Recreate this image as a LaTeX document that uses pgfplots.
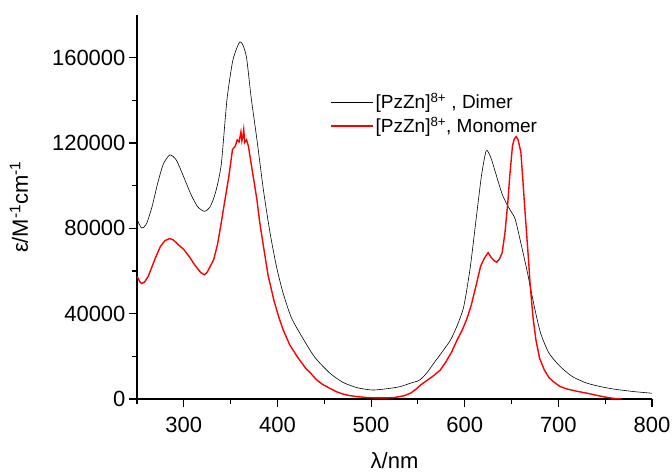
\documentclass[border=0pt]{standalone}
\usepackage{pgfplots}
\pgfplotsset{compat=1.18}
\usepackage{fontspec}
\setmainfont{Liberation Sans}
\begin{document}
\begin{tikzpicture}
\begin{axis}[
  scale only axis, width=515pt, height=384pt,
  xmin=250, xmax=800, ymin=0, ymax=180000,
  axis x line*=bottom, axis y line*=left,
  separate axis lines,
  x axis line style={line width=1.1pt},
  y axis line style={line width=1.1pt},
  xtick align=outside, ytick align=outside,
  xtick={300,400,500,600,700,800},
  minor xtick={250,350,450,550,650,750},
  ytick={0,40000,80000,120000,160000},
  minor ytick={20000,60000,100000,140000},
  tickwidth=8pt, subtickwidth=5pt,
  xtick style={black, line width=1.1pt},
  ytick style={black, line width=1.1pt},
  scaled y ticks=false,
  yticklabel style={/pgf/number format/fixed, /pgf/number format/1000 sep={}},
  xticklabel shift=7pt,
  /pgf/number format/assume math mode=true,
  tick label style={font=\fontsize{22}{24}\selectfont},
  xlabel={\fontsize{22}{24}\selectfont λ/nm},
  ylabel={\fontsize{22}{24}\selectfont ε/M\textsuperscript{-1}cm\textsuperscript{-1}},
  xlabel style={at={(axis description cs:0.5,0)}, anchor=north, yshift=-50pt},
  ylabel style={yshift=17pt},
  legend style={draw=none, fill=none, at={(0.369,0.807)}, anchor=north west,
    font=\fontsize{19}{21}\selectfont, row sep=3pt},
  legend cell align=left,
]
\addplot[black, line width=0.6pt, smooth, tension=0.4,
  legend image code/.code={\draw[black, line width=0.6pt] (0pt,0pt) -- (42pt,0pt);}] coordinates {
(250,84200) (255,80100) (260,82000) (266,90000) (272,101000) (278,110000) (285,114400)
(292,112000) (300,104000) (308,95500) (315,90000) (322,88000) (328,90000) (334,97000)
(340,110000) (346,140000) (352,158000) (357,165000) (360,167400) (363,166000) (367,160000)
(372,141000) (378,121900) (385,98000) (392,78100) (399,62000) (406,49700) (415,38000)
(428,27800) (440,19500) (456,12100) (470,7800) (485,5300) (502,4200) (520,5000)
(531,5800) (542,7400) (552,8900) (560,12500) (567,16800) (575,21500) (585,27800) (592,34500)
(599,43400) (606,62000) (613,87400) (618,105000) (623,116400) (628,113000) (635,103000)
(640,96000) (645,91300) (650,87500) (654,84200) (660,73000) (667,59200) (674,44000)
(681,30900) (690,21500) (702,15200) (715,10500) (730,7500) (745,5800) (760,4600)
(780,3500) (800,2700)
};
\addlegendentry{[PzZn]\textsuperscript{8+} , Dimer}
\addplot[color=red, line width=1.4pt,
  legend image code/.code={\draw[red, line width=1.4pt] (0pt,0pt) -- (42pt,0pt);}] coordinates {
(250,57500) (253,55000) (255,54100) (258,54800) (262,57500) (266,62000) (270,66500)
(275,71500) (280,74300) (285,75200) (289,74500) (293,72800) (297,71200) (300,70100)
(304,67800) (307,66000) (310,63900) (314,61500) (318,59300) (322,58200) (325,59500)
(328,62000) (332,65400) (336,72500) (340,82700) (344,93500) (348,104000) (352,117000)
(355,118500) (357,121500) (359,120500) (361,125200) (362,121000) (363,123000) (364,126300)
(365,120200) (367,121500) (369,118500) (372,110000) (375,102000) (378,93600) (381,83000)
(385,71700) (390,58000) (396,46600) (401,39000) (406,32500) (413,25500) (421,19900)
(430,14500) (436,11800) (442,8900) (448,6900) (455,5200) (463,3400) (470,2300)
(477,1600) (485,1100) (495,700) (505,500) (515,500) (525,700) (535,1500) (542,2700)
(548,4600) (553,6600) (560,8800) (567,11000) (574,13600) (580,17500) (586,22000)
(592,27800) (597,32000) (602,37200) (607,44000) (612,53000) (617,62300) (621,66000)
(625,68600) (628,66500) (631,65000) (634,64100) (637,65500) (640,68600) (643,78000)
(646,92000) (648,104000) (651,118700) (653,122000) (655,123000) (657,121500) (660,115600)
(662,103000) (665,84200) (668,66000) (670,52800) (673,38000) (676,27800) (680,19000)
(685,13600) (690,10000) (695,8000) (702,5800) (710,4600) (720,3600) (731,2700)
(740,1800) (750,900) (759,300) (768,0)
};
\addlegendentry{[PzZn]\textsuperscript{8+}, Monomer}
\end{axis}
\pgfresetboundingbox
\path ([shift={(-137pt,-74pt)}]current axis.south west) rectangle ([shift={(20pt,15pt)}]current axis.north east);
\end{tikzpicture}
\end{document}
